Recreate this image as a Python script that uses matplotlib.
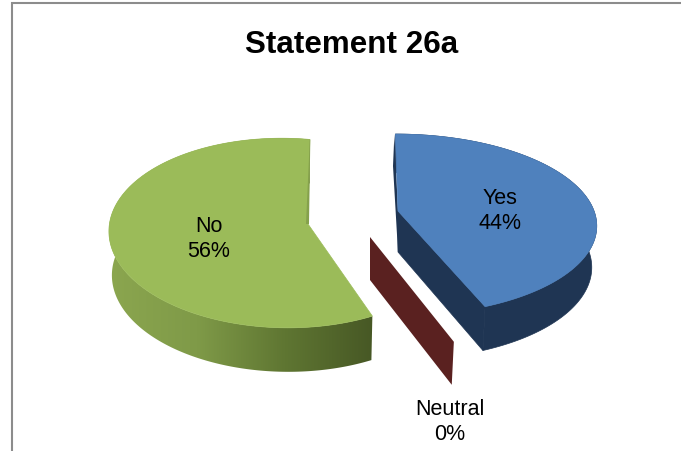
import numpy as np
import matplotlib
matplotlib.use("Agg")
import matplotlib.pyplot as plt
from matplotlib.colors import LinearSegmentedColormap
from matplotlib.patches import Polygon

# --- data ---
title = "Statement 26a"
categories = ["Yes", "Neutral", "No"]
percent = [44, 0, 56]

# --- style ---
colors = {"Yes": "#4f81bd", "No": "#9bbb59", "Neutral": "#5a2120"}
W, H = 681, 452
plt.rcParams['font.family'] = ['Liberation Sans', 'DejaVu Sans']
fig = plt.figure(figsize=(W / 100, H / 100), dpi=100)
ax = fig.add_axes([0, 0, 1, 1])
ax.set_xlim(0, W)
ax.set_ylim(H, 0)
ax.axis("off")

ax.plot([11.5, 11.5, W], [H, 3.5, 3.5], color="#8c8c8c", lw=1.5, solid_joinstyle="miter", zorder=1)
ax.text(352, 45, title, ha="center", va="center", fontsize=22.6, fontweight="bold", color="black")

# per-slice projection: apex, scale, perspective terms, tilt, bottom rim taper
proj = {
    "Yes": dict(cx=398, cy=212, a=196, b=88.5, k=0.15, m=0, s=3, t=0, depth=41, tx=0.975, ty=1.03),
    "Neutral": dict(cx=370, cy=238, a=196, b=97, k=0.15, m=0, s=0, t=0, depth=43, tx=0.975, ty=1.0),
    "No": dict(cx=308, cy=225, a=172, b=93, k=0.10, m=0.13, s=-2, t=4, depth=44, tx=0.985, ty=1.0),
}


def project(name, theta, r=1.0):
    p = proj[name]
    u = r * np.sin(theta)
    v = -r * np.cos(theta)
    d = 1 - p["k"] * v + p["m"] * u
    return p["cx"] + (p["a"] * u + p["s"] * v) / d, p["cy"] + (p["b"] * v + p["t"] * u) / d


def bottom(name, x, y):
    p = proj[name]
    return p["cx"] + (x - p["cx"]) * p["tx"], p["cy"] + (y - p["cy"]) * p["ty"] + p["depth"]


# wedge angles from the values, clockwise from 12 o'clock
fractions = np.array(percent) / sum(percent)
edges = np.concatenate([[0], np.cumsum(fractions)]) * 2 * np.pi
spans = {c: (edges[i], edges[i + 1]) for i, c in enumerate(categories)}

# Neutral: zero-size wedge, only its cut face is visible
t0 = spans["Neutral"][0]
a0 = project("Neutral", t0, 0.0)
a1 = project("Neutral", t0, 1.0)
ax.add_patch(Polygon([a0, a1, bottom("Neutral", *a1), bottom("Neutral", *a0)],
                     fc=colors["Neutral"], ec="none", zorder=2))

# Yes slice
t0, t1 = spans["Yes"]
th = np.linspace(t0, t1, 200)
x, y = project("Yes", th)
xb, yb = bottom("Yes", x, y)
ap = project("Yes", 0, 0)
apb = bottom("Yes", *ap)
dark = "#1f3553"
ax.add_patch(Polygon(list(zip(xb, yb)) + list(zip(x[::-1], y[::-1])), fc=dark, ec=dark, lw=0.5, zorder=3))
ax.add_patch(Polygon([ap, (x[-1], y[-1]), (xb[-1], yb[-1]), apb], fc=dark, ec=dark, lw=0.5, zorder=3))
ax.add_patch(Polygon([(x[0] - 1, y[0]), (ap[0] - 5, ap[1] - 45), (ap[0], apb[1]), ap], fc=dark, ec="none", zorder=3))
ax.add_patch(Polygon([ap] + list(zip(x, y)), fc=colors["Yes"], ec=colors["Yes"], lw=0.5, zorder=4))

# No slice
t0, t1 = spans["No"]
th = np.linspace(t0, t1, 300)
x, y = project("No", th)
xb, yb = bottom("No", x, y)
ap = project("No", 0, 0)
side = Polygon(list(zip(x, y)) + list(zip(xb[::-1], yb[::-1])), fc="none", ec="none", zorder=3)
ax.add_patch(side)
cmap = LinearSegmentedColormap.from_list("side", ["#8ba64f", "#7f9a48", "#5f7632", "#475825"])
im = ax.imshow(np.linspace(0, 1, 256)[None, :], cmap=cmap, aspect="auto", zorder=3,
               extent=[x.min(), x[0], yb.max() + 2, y.min()])
im.set_clip_path(side)
ax.set_xlim(0, W)
ax.set_ylim(H, 0)
ax.add_patch(Polygon([ap] + list(zip(x, y)), fc=colors["No"], ec=colors["No"], lw=0.5, zorder=4))
ax.add_patch(Polygon([(x[-1], y[-1]), (x[-1] + 0.5, y[-1]), (ap[0] + 1, ap[1]), (ap[0] - 2, ap[1])],
                     fc="#85a14c", ec="none", zorder=5))

# labels
label_pos = {"Yes": (500, 211), "No": (209, 239), "Neutral": (450, 422)}
for c, v in zip(categories, percent):
    ax.text(*label_pos[c], f"{c}\n{v}%", ha="center", va="center", fontsize=15.5, color="black",
            linespacing=1.3, zorder=6)

fig.savefig("out.png", dpi=100)
